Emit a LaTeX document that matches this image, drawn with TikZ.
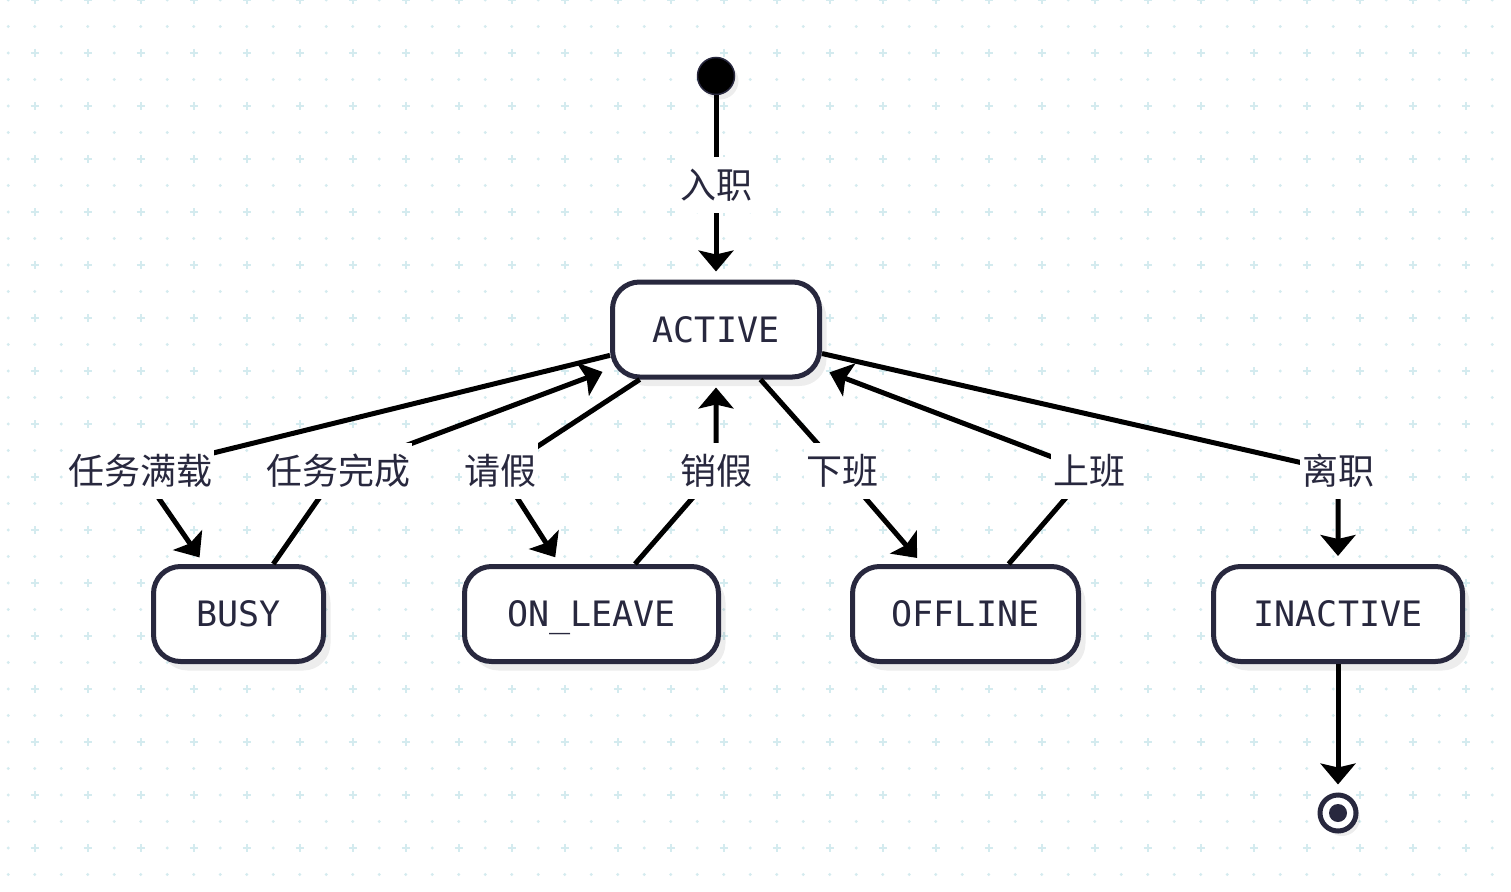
\documentclass[tikz,border=0pt]{standalone}
\usepackage{fontspec}
\newfontfamily\monof{DejaVu Sans Mono}
\newfontfamily\cjk{Noto Sans CJK SC}
\usetikzlibrary{arrows.meta,shadows}
\definecolor{ink}{HTML}{28283E}
\definecolor{gridc}{RGB}{212,235,239}
\begin{document}
\begin{tikzpicture}[x=1pt,y=-1pt,
  state/.style={draw=ink, line width=5pt, fill=white, rounded corners=27pt,
    minimum height=95pt, inner sep=0pt, text=ink, text height=25pt, text depth=0pt,
    font=\monof\fontsize{35}{42}\selectfont,
    drop shadow={shadow xshift=7pt, shadow yshift=-9pt, fill=black, opacity=0.07}},
  lbl/.style={fill=white, text=ink, font=\cjk\fontsize{36}{44}\selectfont,
    inner xsep=2pt, inner ysep=12pt, text height=29pt, text depth=3pt},
  arr/.style={line width=5pt, -{Stealth[length=21pt,width=35pt,inset=4pt]}, shorten >=8pt}
]
\useasboundingbox (0,0) rectangle (1511,891);
\fill[white] (0,0) rectangle (1511,891);
% background grid
\fill[gridc] \foreach \m in {0,...,16} {\foreach \k in {0,...,56} {(8.3+26.5*\k, 26.5+53*\m) circle (1.6pt)}};
\fill[gridc] \foreach \m in {0,...,16} {\foreach \n in {0,...,28} {(8.3+53*\n, 53*\m) circle (1.6pt)}};
\draw[gridc, line width=2pt] \foreach \m in {0,...,16} {\foreach \n in {0,...,27} {(30.8+53*\n, 53*\m) -- ++(8,0) (34.8+53*\n, 53*\m-4) -- ++(0,8)}};

% states
\node[circle, fill=black, draw=ink, line width=1.5pt, minimum size=37pt, inner sep=0pt,
  drop shadow={shadow xshift=4pt, shadow yshift=-5pt, fill=black, opacity=0.07}] (start) at (716,76) {};
\node[state, minimum width=207pt] (active) at (716,329.5) {ACTIVE};
\node[state, minimum width=170pt] (busy) at (238.5,614) {BUSY};
\node[state, minimum width=254pt] (leave) at (591.5,614) {ON\_LEAVE};
\node[state, minimum width=226pt] (offline) at (965.5,614) {OFFLINE};
\node[state, minimum width=249pt] (inactive) at (1338,614) {INACTIVE};
\node[circle, draw=ink, line width=5pt, fill=white, minimum size=36pt, inner sep=0pt,
  drop shadow={shadow xshift=4pt, shadow yshift=-5pt, fill=black, opacity=0.07},
  path picture={\fill[ink] (path picture bounding box.center) circle (9pt);}] (end) at (1338,813) {};

% label positions
\coordinate (c0) at (716,185);
\coordinate (c1) at (140,471);
\coordinate (c2) at (338,471);
\coordinate (c3) at (500,471);
\coordinate (c4) at (716,471);
\coordinate (c5) at (842,471);
\coordinate (c6) at (1089,471);
\coordinate (c7) at (1338,471);

% transitions
\draw[arr] (start) -- (c0) node[lbl] {入职} -- (active);
\draw[arr] (active) -- (c1) node[lbl] {任务满载} -- (busy);
\draw[arr] (busy) -- (c2) node[lbl] {任务完成} -- (active);
\draw[arr] (active) -- (c3) node[lbl] {请假} -- (leave);
\draw[arr] (leave) -- (c4) node[lbl] {销假} -- (active);
\draw[arr] (active) -- (c5) node[lbl] {下班} -- (offline);
\draw[arr] (offline) -- (c6) node[lbl] {上班} -- (active);
\draw[arr] (active) -- (c7) node[lbl] {离职} -- (inactive);
\draw[arr] (inactive) -- (end);
\end{tikzpicture}
\end{document}
